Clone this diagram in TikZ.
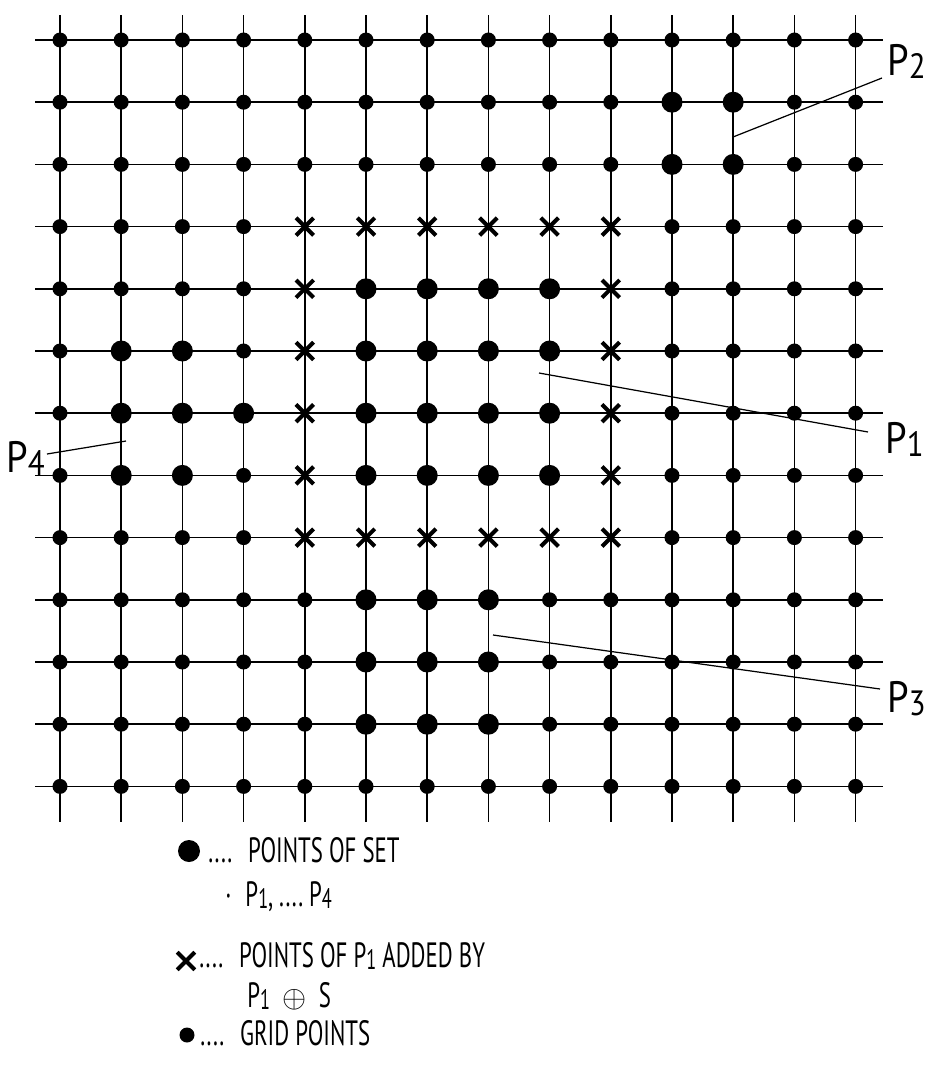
\documentclass[tikz,border=0pt]{standalone}
\usepackage{fontspec}
\setmainfont{PT Sans}
\newfontfamily\legendfont{PT Sans}[FakeStretch=0.65]
\newfontfamily\labelfont{PT Sans}[FakeStretch=0.88]
\usepackage{graphicx}
\usepackage{tikz}
\usetikzlibrary{shapes.misc,positioning}
\newcommand{\lowidx}[1]{\raisebox{-0.08em}{\scalebox{0.8}{#1}}}

\begin{document}
\begin{tikzpicture}[x=0.02cm, y=-0.02cm]
    \tikzstyle{gridline} = [line width=0.9pt]
    \tikzstyle{gridpt} = [circle, fill=black, inner sep=0pt, minimum size=0.3cm]
    \tikzstyle{setpt} = [circle, fill=black, inner sep=0pt, minimum size=0.42cm]
    \tikzstyle{addpt} = [cross out, draw, line width=2.3pt, inner sep=0pt, minimum size=0.27cm]
    \tikzstyle{leader} = [line width=0.7pt]
    \tikzstyle{plabel} = [inner sep=0pt, anchor=base west, font=\labelfont\fontsize{25}{28}\selectfont]
    \tikzstyle{legend} = [inner sep=0pt, anchor=base west, font=\legendfont\fontsize{20}{22}\selectfont]

    \useasboundingbox (0,0) rectangle (933,1065);

    % grid lines
    \foreach \i in {0,...,13}
        \draw [gridline] (60+61.2*\i,15) -- (60+61.2*\i,822);
    \foreach \j in {0,...,12}
        \draw [gridline] (35,40+62.2*\j) -- (883,40+62.2*\j);

    % grid points, crosses on the ring added by P1 (+) S
    \foreach \i in {0,...,13}
        \foreach \j in {0,...,12} {
            \pgfmathtruncatemacro{\ring}{((\j==3||\j==8)&&\i>=4&&\i<=9)||((\i==4||\i==9)&&\j>=3&&\j<=8)}
            \ifnum\ring=0
                \node [gridpt] (g-\i-\j) at (60+61.2*\i,40+62.2*\j) {};
            \else
                \node [addpt] (g-\i-\j) at (60+61.2*\i,40+62.2*\j) {};
            \fi
        }

    % sets P1 ... P4
    \foreach \i/\j in {10/1,11/1,10/2,11/2,
                       5/4,6/4,7/4,8/4, 5/5,6/5,7/5,8/5, 5/6,6/6,7/6,8/6, 5/7,6/7,7/7,8/7,
                       1/5,2/5, 1/6,2/6,3/6, 1/7,2/7,
                       5/9,6/9,7/9, 5/10,6/10,7/10, 5/11,6/11,7/11}
        \node [setpt] (s-\i-\j) at (g-\i-\j) {};

    % labels
    \node [plabel] (lbl-p2) at (887,75) {P\lowidx{2}};
    \node [plabel] (lbl-p1) at (885,453) {P\lowidx{1}};
    \node [plabel] (lbl-p3) at (887,712) {P\lowidx{3}};
    \node [plabel] (lbl-p4) at (6,472) {P\lowidx{4}};

    \coordinate (p2-foot) at (733,137);
    \coordinate (p2-tip) at (882,78);
    \coordinate (p1-foot) at (539,373);
    \coordinate (p1-tip) at (868,432);
    \coordinate (p3-foot) at (493,635);
    \coordinate (p3-tip) at (880,689);
    \coordinate (p4-foot) at (126,441);
    \coordinate (p4-tip) at (47,454);

    \draw [leader] (p2-foot) -- (p2-tip);
    \draw [leader] (p1-foot) -- (p1-tip);
    \draw [leader] (p3-foot) -- (p3-tip);
    \draw [leader] (p4-foot) -- (p4-tip);

    % legend
    \node [setpt, minimum size=0.44cm] (key-set) at (189,851) {};
    \node [legend] (txt-set) at (208,862) {....\hspace{0.45em}POINTS OF SET};
    \node [legend] (txt-set2) at (225,906) {\textperiodcentered\hspace{0.4em}P\lowidx{1},\,....\,P\lowidx{4}};
    \node [addpt] (key-add) at (186,961) {};
    \node [legend] (txt-add) at (199,967) {....\hspace{0.45em}POINTS OF P\lowidx{1} ADDED BY};
    \node [legend] (txt-add2) at (247,1007) {P\lowidx{1}\hspace{0.35em}\scalebox{0.85}{$\oplus$}\hspace{0.35em}S};
    \node [gridpt] (key-grid) at (187,1035) {};
    \node [legend] (txt-grid) at (200,1045) {....\hspace{0.45em}GRID POINTS};
\end{tikzpicture}
\end{document}
